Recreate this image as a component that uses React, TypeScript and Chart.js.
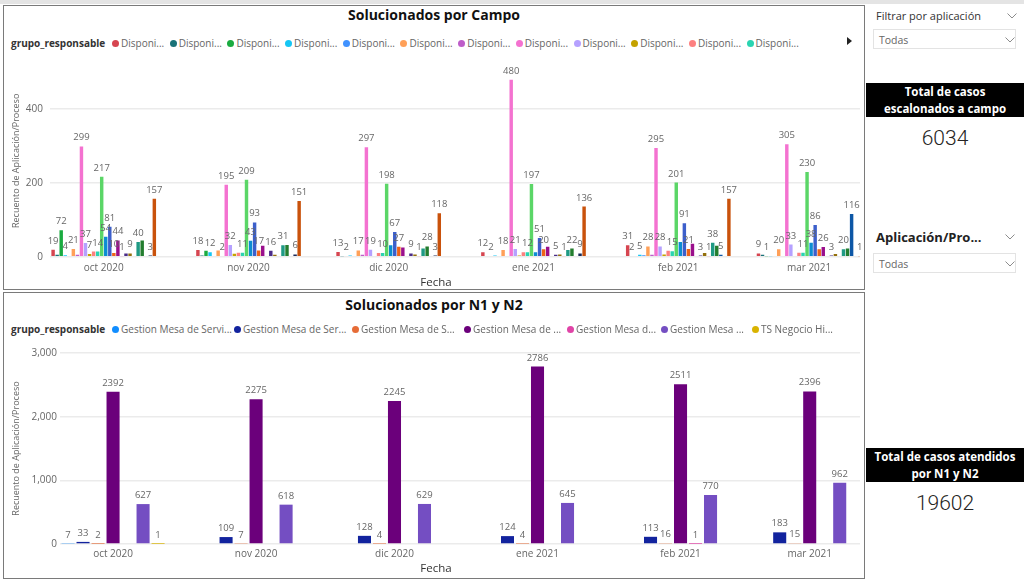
import React, { useEffect, useRef } from 'react';
import { Chart, registerables } from 'chart.js';

Chart.register(...registerables);

const FONT = '"Segoe UI", "Open Sans", "Noto Sans", sans-serif';
Chart.defaults.font.family = FONT;

// Month starts (continuous date axis) and their axis labels
const monthStarts = ['2020-10-01', '2020-11-01', '2020-12-01', '2021-01-01', '2021-02-01', '2021-03-01'];
const monthLabels = ['oct 2020', 'nov 2020', 'dic 2020', 'ene 2021', 'feb 2021', 'mar 2021'];

// "Solucionados por Campo": responsible groups and colours
const campoGroups = [
  'Disponi...', 'Disponi...', 'Disponi...', 'Disponi...', 'Disponi...', 'Disponi...', 'Disponi...',
  'Disponi...', 'Disponi...', 'Disponi...', 'Disponi...', 'Disponi...', 'Disponi...', 'Disponi...',
  'Disponi...', 'Disponi...', 'Disponi...', 'Disponi...', 'Disponi...', 'Disponi...', 'Disponi...',
  'Disponi...', 'Disponi...', 'Disponi...', 'Disponi...', 'Disponi...',
];
const campoColors = [
  '#D64550', '#197278', '#1AAB40', '#15C6F4', '#4092FF', '#FFA058', '#BE5DC9', '#F472D0', '#B5A1FF',
  '#C4A200', '#FD8080', '#2AD4B1', '#5BD667', '#0C8DD2', '#3C5FCB', '#EE6318', '#9A0F8C', '#E58CC8',
  '#4B2C88', '#94700C', '#F49090', '#1F9A84', '#237D2E', '#0D57A6', '#1B2A58', '#C9520C',
];
// Cases per group, one array per month (same order as campoGroups)
const campoOct = [19, 5, 72, 4, 0, 21, 5, 299, 37, 7, 14, 14, 217, 54, 81, 10, 44, 1, 9, 9, 0, 40, 44, 0, 3, 157];
const campoNov = [18, 3, 16, 12, 0, 17, 2, 195, 32, 8, 11, 11, 209, 43, 93, 17, 30, 0, 16, 5, 0, 31, 32, 0, 6, 151];
const campoDic = [13, 1, 2, 3, 0, 17, 5, 297, 19, 2, 10, 10, 198, 31, 67, 27, 25, 0, 9, 6, 1, 22, 28, 0, 3, 118];
const campoEne = [12, 2, 2, 3, 0, 18, 2, 480, 21, 3, 12, 12, 197, 12, 51, 20, 27, 0, 5, 6, 1, 18, 22, 0, 9, 136];
const campoFeb = [31, 2, 0, 5, 4, 28, 5, 295, 28, 6, 16, 15, 201, 40, 91, 21, 35, 0, 3, 10, 1, 38, 30, 5, 0, 157];
const campoMar = [9, 5, 1, 1, 0, 20, 2, 305, 33, 0, 11, 11, 230, 38, 86, 20, 26, 0, 3, 7, 0, 20, 22, 116, 0, 1];
const campoTicks = [0, 200, 400];

// "Solucionados por N1 y N2": responsible groups, colours and monthly counts
const n1n2Groups = [
  'Gestion Mesa de Servi...', 'Gestion Mesa de Ser...', 'Gestion Mesa de S...', 'Gestion Mesa de ...',
  'Gestion Mesa d...', 'Gestion Mesa ...', 'TS Negocio Hi...',
];
const n1n2Colors = ['#118DFF', '#12239E', '#E66C37', '#6B007B', '#E044A7', '#744EC2', '#D9B300'];
const mesaServicioA = [7, null, null, null, null, null];
const mesaServicioB = [33, 109, 128, 124, 113, 183];
const mesaServicioC = [2, 7, 4, 4, 16, 15];
const mesaServicioD = [2392, 2275, 2245, 2786, 2511, 2396];
const mesaServicioE = [null, null, null, null, 1, null];
const mesaServicioF = [627, 618, 629, 645, 770, 962];
const tsNegocio = [1, null, null, null, null, null];
const n1n2Ticks = [0, 1000, 2000, 3000];

const totalCampo = '6034';
const totalN1N2 = '19602';

const dayOf = (iso: string) => {
  const [y, m, d] = iso.split('-').map(Number);
  return (Date.UTC(y, m - 1, d) - Date.UTC(2020, 9, 1)) / 86400000;
};
const monthDays = monthStarts.map(dayOf);

// Value labels above bars; a label is skipped when it would collide with one already drawn
const valueLabels = {
  id: 'valueLabels',
  afterDatasetsDraw(chart: any, _args: any, opts: any) {
    const ctx = chart.ctx;
    ctx.save();
    ctx.font = `${opts.size}px ${FONT}`;
    ctx.fillStyle = opts.color;
    ctx.textAlign = 'center';
    ctx.textBaseline = 'alphabetic';
    const items: { x: number; y: number; text: string }[] = [];
    chart.data.datasets.forEach((ds: any, di: number) => {
      const meta = chart.getDatasetMeta(di);
      meta.data.forEach((bar: any, i: number) => {
        const v = ds.data[i] ? ds.data[i].y : null;
        if (v == null || v <= 0) return;
        items.push({ x: bar.x, y: bar.y, text: String(v) });
      });
    });
    items.sort((a, b) => a.x - b.x);
    const placed: { l: number; r: number; t: number; b: number }[] = [];
    for (const it of items) {
      const w = ctx.measureText(it.text).width;
      const base = it.y - opts.gap;
      const box = { l: it.x - w / 2, r: it.x + w / 2, t: base - opts.size, b: base };
      const hit = placed.some((p) => box.l < p.r - 0.3 && box.r > p.l + 0.3 && box.t < p.b && box.b > p.t);
      if (hit) continue;
      placed.push(box);
      ctx.fillText(it.text, it.x, base);
    }
    ctx.restore();
  },
};

type AxisSpec = {
  padTop: number;
  padRight: number;
  yWidth: number;
  xHeight: number;
  yMax: number;
  yTicks: number[];
  yTickPad: number;
  xTickPad: number;
  yTitlePad: number;
  catPct: number;
  barPct: number;
  fmt: (v: number) => string;
};

function makeConfig(datasets: any[], a: AxisSpec): any {
  return {
    type: 'bar',
    data: { datasets },
    plugins: [valueLabels],
    options: {
      responsive: false,
      animation: false,
      devicePixelRatio: 1,
      layout: { padding: { top: a.padTop, right: a.padRight, left: 0, bottom: 0 } },
      datasets: { bar: { categoryPercentage: a.catPct, barPercentage: a.barPct } },
      plugins: {
        legend: { display: false },
        tooltip: { enabled: false },
        valueLabels: { size: 9.5, color: '#666666', gap: 6 },
      },
      scales: {
        x: {
          type: 'linear',
          min: -11.5,
          max: 161.9,
          offset: false,
          afterBuildTicks: (axis: any) => {
            axis.ticks = monthDays.map((v) => ({ value: v }));
          },
          afterFit: (s: any) => {
            s.height = a.xHeight;
          },
          grid: { display: false, offset: false, drawTicks: false },
          border: { display: false },
          ticks: {
            autoSkip: false,
            maxRotation: 0,
            padding: a.xTickPad,
            color: '#666666',
            font: { size: 10 },
            callback: (_v: any, i: number) => monthLabels[i],
          },
        },
        y: {
          min: 0,
          max: a.yMax,
          afterBuildTicks: (axis: any) => {
            axis.ticks = a.yTicks.map((v) => ({ value: v }));
          },
          afterFit: (s: any) => {
            s.width = a.yWidth;
          },
          grid: { color: '#ebebeb', lineWidth: 1.5, drawTicks: false },
          border: { display: false },
          ticks: {
            padding: a.yTickPad,
            color: '#666666',
            font: { size: 10 },
            callback: (v: any) => a.fmt(Number(v)),
          },
          title: {
            display: true,
            text: 'Recuento de Aplicación/Proceso',
            color: '#666666',
            font: { size: 9, lineHeight: 1.2 },
            padding: { top: a.yTitlePad, bottom: 0 },
          },
        },
      },
    },
  };
}

function campoConfig() {
  const byMonth = [campoOct, campoNov, campoDic, campoEne, campoFeb, campoMar];
  const datasets = campoGroups.map((name, s) => ({
    label: name,
    backgroundColor: campoColors[s],
    data: monthDays.map((x, m) => ({ x, y: byMonth[m][s] })),
  }));
  return makeConfig(datasets, {
    padTop: 11.3,
    padRight: 2,
    yWidth: 46,
    xHeight: 31.3,
    yMax: 520,
    yTicks: campoTicks,
    yTickPad: 7,
    xTickPad: 5.3,
    yTitlePad: 6.6,
    catPct: 0.805,
    barPct: 0.85,
    fmt: (v) => String(v),
  });
}

function n1n2Config() {
  const series = [mesaServicioA, mesaServicioB, mesaServicioC, mesaServicioD, mesaServicioE, mesaServicioF, tsNegocio];
  const datasets = n1n2Groups.map((name, s) => ({
    label: name,
    backgroundColor: n1n2Colors[s],
    data: monthDays.map((x, m) => ({ x, y: series[s][m] })),
  }));
  return makeConfig(datasets, {
    padTop: 13,
    padRight: 2,
    yWidth: 56,
    xHeight: 34,
    yMax: 3000,
    yTicks: n1n2Ticks,
    yTickPad: 3,
    xTickPad: 4,
    yTitlePad: 6.6,
    catPct: 0.813,
    barPct: 0.87,
    fmt: (v) => v.toLocaleString('en-US'),
  });
}

function ChartCanvas(props: { left: number; top: number; width: number; height: number; make: () => any }) {
  const ref = useRef<HTMLCanvasElement>(null);
  useEffect(() => {
    const chart = new Chart(ref.current as HTMLCanvasElement, props.make());
    return () => chart.destroy();
  }, []);
  return (
    <canvas
      ref={ref}
      width={props.width}
      height={props.height}
      style={{ position: 'absolute', left: props.left, top: props.top, width: props.width, height: props.height }}
    />
  );
}

function Chevron(props: { x: number; y: number }) {
  return (
    <svg style={{ position: 'absolute', left: props.x - 5, top: props.y - 3 }} width={10} height={6}>
      <polyline points="0.5,0.5 5,5 9.5,0.5" fill="none" stroke="#8c8c8c" strokeWidth={1} />
    </svg>
  );
}

function AxisName(props: { top: number }) {
  return (
    <div
      style={{
        position: 'absolute',
        left: 386,
        top: props.top,
        width: 100,
        height: 14,
        lineHeight: '14px',
        textAlign: 'center',
        fontSize: 11.5,
        color: '#333333',
      }}
    >
      Fecha
    </div>
  );
}

function LegendRow(props: { top: number; names: string[]; colors: string[]; widths: number[] }) {
  return (
    <div
      style={{
        position: 'absolute',
        left: 11,
        top: props.top,
        height: 14,
        display: 'flex',
        alignItems: 'center',
        whiteSpace: 'nowrap',
        fontSize: 10,
        color: '#666666',
      }}
    >
      <span style={{ fontWeight: 700, color: '#333333', width: 101 }}>grupo_responsable</span>
      {props.names.map((n, i) => (
        <span key={i} style={{ display: 'flex', alignItems: 'center', width: props.widths[i], overflow: 'hidden' }}>
          <span
            style={{
              display: 'inline-block',
              width: 7,
              height: 7,
              borderRadius: '50%',
              background: props.colors[i],
              marginRight: 2,
              flex: 'none',
            }}
          />
          {n}
        </span>
      ))}
    </div>
  );
}

function Dropdown(props: { top: number }) {
  return (
    <div
      style={{
        position: 'absolute',
        left: 873,
        top: props.top,
        width: 143,
        height: 20,
        border: '1px solid #e3e3e3',
        fontSize: 10.5,
        color: '#666666',
        lineHeight: '20px',
        paddingLeft: 5,
        boxSizing: 'border-box',
      }}
    >
      Todas
      <Chevron x={136} y={10} />
    </div>
  );
}

function Card(props: { top: number; lines: string[]; value: string }) {
  return (
    <>
      <div
        style={{
          position: 'absolute',
          left: 866,
          top: props.top,
          width: 158,
          height: 34,
          background: '#000',
          color: '#fff',
          fontWeight: 700,
          fontSize: 11.5,
          lineHeight: '17px',
          textAlign: 'center',
        }}
      >
        {props.lines.map((l, i) => (
          <div key={i}>{l}</div>
        ))}
      </div>
      <div
        style={{
          position: 'absolute',
          left: 866,
          top: props.top + 43,
          width: 158,
          height: 24,
          lineHeight: '24px',
          textAlign: 'center',
          fontFamily: 'Roboto, sans-serif',
          fontWeight: 300,
          fontSize: 21,
          color: '#252423',
        }}
      >
        {props.value}
      </div>
    </>
  );
}

export default function App() {
  const campoWidths = campoGroups.slice(0, 12).map(() => 57.7);
  const n1n2Widths = [122, 118, 112, 103, 94, 91, 90];
  return (
    <div
      style={{
        position: 'fixed',
        left: 0,
        top: 0,
        width: 1024,
        height: 579,
        background: '#ffffff',
        overflow: 'hidden',
        fontFamily: FONT,
      }}
    >
      <div style={{ position: 'absolute', left: 0, top: 0, width: 1024, height: 4, background: '#e4e4e4' }} />

      {/* Solucionados por Campo */}
      <div style={{ position: 'absolute', left: 3, top: 5, width: 860, height: 283, border: '1px solid #7a7a7a' }} />
      <div
        style={{
          position: 'absolute',
          left: 4,
          top: 5,
          width: 860,
          height: 20,
          lineHeight: '20px',
          textAlign: 'center',
          fontWeight: 700,
          fontSize: 14,
          color: '#111111',
        }}
      >
        Solucionados por Campo
      </div>
      <LegendRow top={36} names={campoGroups.slice(0, 12)} colors={campoColors} widths={campoWidths} />
      <svg style={{ position: 'absolute', left: 847, top: 37 }} width={6} height={8}>
        <polygon points="0,0 5,4 0,8" fill="#222" />
      </svg>
      <ChartCanvas left={4} top={52} width={858} height={236} make={campoConfig} />
      <AxisName top={275} />

      {/* Solucionados por N1 y N2 */}
      <div style={{ position: 'absolute', left: 3, top: 292, width: 860, height: 285, border: '1px solid #7a7a7a' }} />
      <div
        style={{
          position: 'absolute',
          left: 4,
          top: 295,
          width: 860,
          height: 20,
          lineHeight: '20px',
          textAlign: 'center',
          fontWeight: 700,
          fontSize: 14,
          color: '#111111',
        }}
      >
        Solucionados por N1 y N2
      </div>
      <LegendRow top={322} names={n1n2Groups} colors={n1n2Colors} widths={n1n2Widths} />
      <ChartCanvas left={4} top={340} width={858} height={238} make={n1n2Config} />
      <AxisName top={561} />

      {/* Filters and totals */}
      <div style={{ position: 'absolute', left: 876, top: 8, fontSize: 11, color: '#333333', lineHeight: '16px' }}>
        Filtrar por aplicación
      </div>
      <Chevron x={1012} y={16} />
      <Dropdown top={29} />
      <Card top={83} lines={['Total de casos', 'escalonados a campo']} value={totalCampo} />
      <div
        style={{
          position: 'absolute',
          left: 876,
          top: 228,
          fontSize: 13,
          fontWeight: 700,
          color: '#222222',
          lineHeight: '18px',
        }}
      >
        Aplicación/Pro...
      </div>
      <Chevron x={1010} y={237} />
      <Dropdown top={253} />
      <Card top={448} lines={['Total de casos atendidos', 'por N1 y N2']} value={totalN1N2} />
    </div>
  );
}
